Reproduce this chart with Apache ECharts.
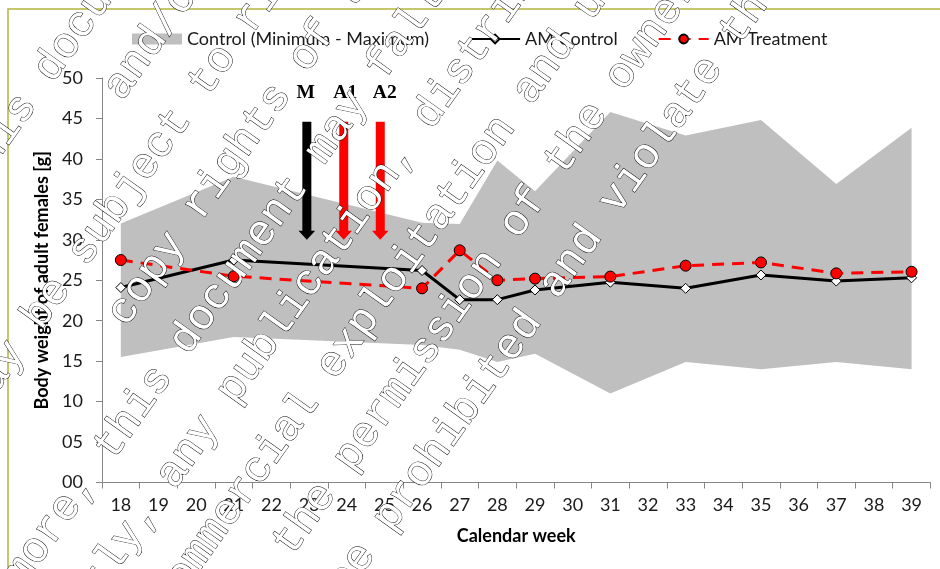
<!DOCTYPE html>
<html>
<head>
<meta charset="utf-8">
<script src="https://cdn.jsdelivr.net/npm/echarts@6/dist/echarts.min.js"></script>
<style>
html,body{margin:0;padding:0;background:#ffffff;}
#chart{width:940px;height:569px;}
</style>
</head>
<body>
<div id="chart"></div>
<script>
// ---- data ----
const weekLabels = ['18','19','20','21','22','23','24','25','26','27','28','29','30','31','32','33','34','35','36','37','38','39'];
const weeks = [18, 21, 26, 27, 28, 29, 31, 33, 35, 37, 39];
const controlMin = [15.5, 18.0, 17.0, 16.4, 14.9, 15.9, 11.0, 14.9, 14.0, 14.9, 14.0];
const controlMax = [32.0, 37.8, 32.1, 31.95, 39.8, 36.0, 45.8, 42.9, 44.8, 36.9, 43.85];
const amControl = [24.1, 27.5, 26.2, 22.6, 22.6, 23.8, 24.75, 24.0, 25.65, 24.9, 25.3];
const amTreatment = [27.5, 25.5, 24.0, 28.7, 25.0, 25.2, 25.45, 26.8, 27.2, 25.85, 26.05];
const arrowWeeks = [22.94, 23.92, 24.89];
const labelWeeks = [22.91, 23.96, 25.01];
const arrowLabels = ['M', 'A1', 'A2'];
const arrowTop = 44.6;
const arrowTip = 30.0;
const labelLevel = 48.2;
const yMin = 0, yMax = 50, yStep = 5;
const watermarkLines = [
  'This document is the property of Bayer AG',
  'and/or any of its affiliates.',
  'It may be subject to rights such as intellectual property and',
  'copy rights of the owner and third parties.',
  'Furthermore, this document may fall under a regulatory data protection regime.',
  'Consequently, any publication, distribution, reproduction and/or publishing and',
  'any commercial exploitation and use of this document or its content',
  'without the permission of the owner of this document may therefore',
  'be prohibited and violate the rights of its owner.'
];

// ---- styles ----
const arrowColors = ['#000000', '#ff0000', '#ff0000'];
const bandColor = '#bfbfbf';
const sansFont = 'Lato';

const chart = echarts.init(document.getElementById('chart'), null, {renderer: 'canvas'});

const wmAngle = 54.5 * Math.PI / 180;
const wmChildren = watermarkLines.map(function (t, i) {
  return {
    type: 'text',
    x: 365,
    y: 80 + 67.1 * i,
    z: 100,
    zlevel: 0,
    silent: true,
    style: {
      text: t,
      font: '43.3px "Liberation Mono"',
      fill: '#ffffff',
      stroke: '#000000',
      lineWidth: 0.9,
      align: 'center',
      verticalAlign: 'middle'
    }
  };
});

const option = {
  backgroundColor: '#ffffff',
  animation: false,
  grid: {left: 102, right: 9.6, top: 78, bottom: 86.5, containLabel: false},
  legend: {
    left: 127,
    top: 25,
    itemWidth: 50,
    itemHeight: 11,
    itemGap: 40,
    textStyle: {fontFamily: sansFont, fontSize: 18, color: '#1a1a1a'},
    data: [
      {name: 'Control (Minimum - Maximum)', icon: 'rect', itemStyle: {color: bandColor}},
      {name: 'AM Control'},
      {name: 'AM Treatment'}
    ]
  },
  xAxis: [
    {
      type: 'category',
      data: weekLabels,
      boundaryGap: true,
      name: 'Calendar week',
      nameLocation: 'middle',
      nameGap: 45,
      nameTextStyle: {fontFamily: sansFont, fontSize: 18, fontWeight: 'bold', color: '#000'},
      axisLine: {lineStyle: {color: '#868686', width: 1}},
      axisTick: {show: true, length: 6, lineStyle: {color: '#868686'}},
      axisLabel: {fontFamily: sansFont, fontSize: 18, color: '#1a1a1a', margin: 14, interval: 0},
      splitLine: {show: false}
    },
    {
      type: 'value',
      min: 17.5,
      max: 39.5,
      show: false,
      splitLine: {show: false}
    }
  ],
  yAxis: {
    type: 'value',
    min: yMin,
    max: yMax,
    interval: yStep,
    name: 'Body weight of adult females [g]',
    nameLocation: 'middle',
    nameGap: 40,
    nameTextStyle: {fontFamily: sansFont, fontSize: 18, fontWeight: 'bold', color: '#000'},
    axisLine: {show: true, lineStyle: {color: '#868686', width: 1}},
    axisTick: {show: true, length: 6, lineStyle: {color: '#868686'}},
    axisLabel: {
      fontFamily: sansFont, fontSize: 18, color: '#1a1a1a', margin: 19,
      formatter: function (v) { return (v < 10 ? '0' : '') + v; }
    },
    splitLine: {show: false}
  },
  series: [
    {
      name: 'Control (Minimum - Maximum)',
      type: 'custom',
      xAxisIndex: 1,
      yAxisIndex: 0,
      itemStyle: {color: bandColor},
      data: weeks.map(function (w, i) { return [w, controlMin[i], controlMax[i]]; }),
      encode: {x: 0, y: [1, 2]},
      z: 1,
      renderItem: function (params, api) {
        if (params.dataIndex !== 0) return null;
        const pts = [];
        for (let i = 0; i < weeks.length; i++) pts.push(api.coord([weeks[i], controlMax[i]]));
        for (let i = weeks.length - 1; i >= 0; i--) pts.push(api.coord([weeks[i], controlMin[i]]));
        return {type: 'polygon', shape: {points: pts}, style: {fill: bandColor}};
      }
    },
    {
      name: 'AM Control',
      type: 'line',
      xAxisIndex: 1,
      yAxisIndex: 0,
      z: 3,
      data: weeks.map(function (w, i) { return [w, amControl[i]]; }),
      lineStyle: {color: '#000000', width: 3},
      itemStyle: {color: '#ffffff', borderColor: '#000000', borderWidth: 1},
      symbol: 'diamond',
      symbolSize: 10,
      showAllSymbol: true
    },
    {
      name: 'AM Treatment',
      type: 'line',
      xAxisIndex: 1,
      yAxisIndex: 0,
      z: 4,
      data: weeks.map(function (w, i) { return [w, amTreatment[i]]; }),
      lineStyle: {color: '#ff0000', width: 3, type: [12, 8]},
      itemStyle: {color: '#ff0000', borderColor: '#000000', borderWidth: 1},
      symbol: 'circle',
      symbolSize: 11,
      showAllSymbol: true
    },
    {
      name: 'arrows',
      type: 'custom',
      xAxisIndex: 1,
      yAxisIndex: 0,
      z: 5,
      data: arrowWeeks.map(function (w) { return [w, arrowTop]; }),
      renderItem: function (params, api) {
        const i = params.dataIndex;
        const top = api.coord([arrowWeeks[i], arrowTop]);
        const tip = api.coord([arrowWeeks[i], arrowTip]);
        const lab = api.coord([labelWeeks[i], labelLevel]);
        const x = top[0];
        const hw = 4.5, hh = 8.3, hl = 9;
        return {
          type: 'group',
          children: [
            {
              type: 'polygon',
              shape: {points: [[x - hw, top[1]], [x + hw, top[1]], [x + hw, tip[1] - hl], [x + hh, tip[1] - hl], [x, tip[1]], [x - hh, tip[1] - hl], [x - hw, tip[1] - hl]]},
              style: {fill: arrowColors[i]}
            },
            {
              type: 'text',
              x: lab[0],
              y: lab[1],
              style: {text: arrowLabels[i], font: 'bold 19.5px "Liberation Serif"', fill: '#000000', align: 'center', verticalAlign: 'middle'}
            }
          ]
        };
      }
    }
  ],
  graphic: [
    {
      type: 'rect',
      z: 50,
      shape: {x: 8, y: 9, width: 1000, height: 700},
      style: {fill: null, stroke: '#b4b43c', lineWidth: 1.5}
    },
    {
      type: 'group',
      x: 0,
      y: 0,
      rotation: wmAngle,
      z: 100,
      silent: true,
      children: wmChildren
    }
  ]
};

chart.setOption(option);
</script>
</body>
</html>
